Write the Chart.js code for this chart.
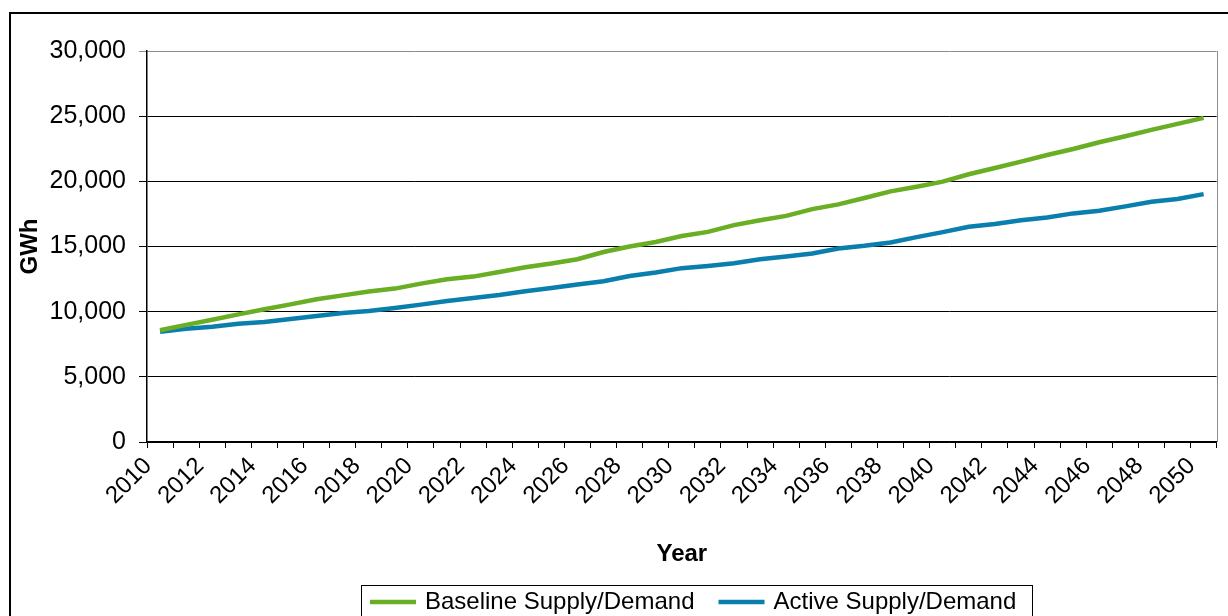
<!DOCTYPE html>
<html>
<head>
<meta charset="utf-8">
<title>Supply/Demand projection</title>
<script src="https://cdn.jsdelivr.net/npm/chart.js@4.4.1/dist/chart.umd.min.js"></script>
<style>
  html, body { margin: 0; padding: 0; background: #ffffff; }
  #wrap { width: 1228px; height: 616px; position: relative; }
  canvas { display: block; }
</style>
</head>
<body>
<div id="wrap"><canvas id="chart" width="1228" height="616"></canvas></div>
<script>
// Years on the category axis
const years = [
  2010, 2011, 2012, 2013, 2014, 2015, 2016, 2017, 2018, 2019,
  2020, 2021, 2022, 2023, 2024, 2025, 2026, 2027, 2028, 2029,
  2030, 2031, 2032, 2033, 2034, 2035, 2036, 2037, 2038, 2039,
  2040, 2041, 2042, 2043, 2044, 2045, 2046, 2047, 2048, 2049, 2050
];

// Annual electricity, GWh
const baseline = [
  8580, 8990, 9380, 9790, 10180, 10560, 10950, 11250, 11540, 11770,
  12150, 12480, 12690, 13050, 13410, 13690, 14020, 14580, 15000, 15350,
  15800, 16120, 16640, 17020, 17350, 17870, 18230, 18720, 19230, 19590,
  19980, 20540, 21020, 21510, 22020, 22480, 23000, 23460, 23950, 24410, 24870
];
const active = [
  8460, 8690, 8850, 9070, 9200, 9430, 9660, 9890, 10050, 10280,
  10540, 10820, 11050, 11280, 11560, 11820, 12080, 12330, 12740, 13000,
  13340, 13510, 13720, 14020, 14230, 14460, 14850, 15050, 15310, 15720,
  16100, 16510, 16720, 17020, 17230, 17540, 17740, 18080, 18430, 18640, 19020
];

const seriesNames = ['Baseline Supply/Demand', 'Active Supply/Demand'];
const seriesColors = ['#69AE23', '#0A7FAE'];

// Value axis
const yMin = 0, yMax = 30000, yStep = 5000;

const FONT = '"Liberation Sans", Arial, Helvetica, sans-serif';

// Outer frame, plot border and the boxed legend under the chart
const framePlugin = {
  id: 'frame',
  beforeDatasetsDraw(chart) {
    const { ctx, chartArea: a } = chart;
    ctx.save();
    ctx.strokeStyle = '#8c8c8c';
    ctx.lineWidth = 1;
    ctx.beginPath();
    ctx.moveTo(Math.round(a.right) + 0.5, a.top);
    ctx.lineTo(Math.round(a.right) + 0.5, a.bottom);
    ctx.stroke();
    ctx.restore();
  },
  afterDraw(chart) {
    const { ctx } = chart;
    ctx.save();
    // outer chart frame (right and bottom run past the canvas)
    ctx.strokeStyle = '#000';
    ctx.lineWidth = 2;
    ctx.strokeRect(10, 13, 1240, 640);

    // legend box
    const boxL = 361.5, boxT = 585.5, boxR = 1032.5;
    ctx.lineWidth = 1;
    ctx.strokeRect(boxL, boxT, boxR - boxL, 60);

    ctx.font = '24px ' + FONT;
    ctx.textBaseline = 'middle';
    ctx.fillStyle = '#000';
    const cy = 602;
    let x = 370;
    chart.data.datasets.forEach((ds) => {
      ctx.strokeStyle = ds.borderColor;
      ctx.lineWidth = 4.5;
      ctx.beginPath();
      ctx.moveTo(x, cy);
      ctx.lineTo(x + 46, cy);
      ctx.stroke();
      ctx.fillText(ds.label, x + 55, cy);
      x += 55 + ctx.measureText(ds.label).width + 24;
    });
    ctx.restore();
  }
};

new Chart(document.getElementById('chart'), {
  type: 'line',
  data: {
    labels: years.map(String),
    datasets: [
      {
        label: seriesNames[0],
        data: baseline,
        borderColor: seriesColors[0],
        backgroundColor: seriesColors[0],
        borderWidth: 4.5,
        pointRadius: 0,
        tension: 0,
        fill: false
      },
      {
        label: seriesNames[1],
        data: active,
        borderColor: seriesColors[1],
        backgroundColor: seriesColors[1],
        borderWidth: 4.5,
        pointRadius: 0,
        tension: 0,
        fill: false
      }
    ]
  },
  options: {
    responsive: false,
    animation: false,
    devicePixelRatio: 1,
    layout: { padding: { left: 0, top: 51, right: 2, bottom: 46 } },
    plugins: {
      legend: { display: false },
      tooltip: { enabled: false },
      title: { display: false }
    },
    scales: {
      x: {
        type: 'category',
        offset: true,
        afterFit(scale) { scale.height = 128; },
        grid: {
          offset: true,
          drawOnChartArea: false,
          drawTicks: true,
          tickLength: 6,
          color: '#000',
          lineWidth: 1
        },
        border: { display: true, color: '#000', width: 1.5 },
        ticks: {
          autoSkip: false,
          maxRotation: 45,
          minRotation: 45,
          padding: 4,
          labelOffset: -12,
          color: '#000',
          font: { family: FONT, size: 24 },
          callback(value, index) {
            const yr = years[index];
            return (yr - years[0]) % 2 === 0 ? String(yr) : '';
          }
        },
        title: {
          display: true,
          text: 'Year',
          color: '#000',
          font: { family: FONT, size: 24, weight: 'bold' },
          padding: { top: 0, bottom: 1 }
        }
      },
      y: {
        min: yMin,
        max: yMax,
        afterFit(scale) { scale.width = 147; },
        grid: {
          drawOnChartArea: true,
          drawTicks: true,
          tickLength: 8,
          lineWidth: 1,
          color(ctx) {
            return ctx.tick && ctx.tick.value === yMax ? '#8c8c8c' : '#000';
          }
        },
        border: { display: true, color: '#000', width: 1.5 },
        ticks: {
          stepSize: yStep,
          padding: 13,
          color: '#000',
          font: { family: FONT, size: 25 },
          callback(value) { return Number(value).toLocaleString('en-US'); }
        },
        title: {
          display: true,
          text: 'GWh',
          color: '#000',
          font: { family: FONT, size: 24, weight: 'bold' },
          padding: { top: 16, bottom: 0 }
        }
      }
    }
  },
  plugins: [framePlugin]
});
</script>
</body>
</html>
